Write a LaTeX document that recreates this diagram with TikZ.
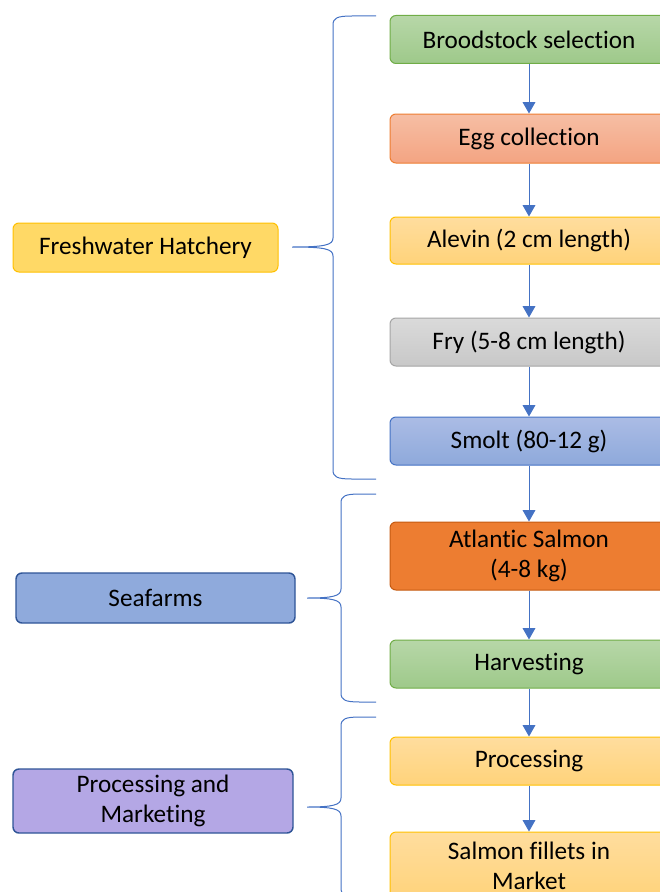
\documentclass[tikz,border=0pt]{standalone}
\usepackage{fontspec}
\setmainfont{Carlito}[Ligatures=NoCommon]
\usepackage{tikz}
\definecolor{arrowblue}{RGB}{68,114,196}
\definecolor{darkblue}{RGB}{47,85,151}
\definecolor{greentop}{RGB}{183,215,168}
\definecolor{greenbot}{RGB}{158,201,138}
\definecolor{greenline}{RGB}{112,173,71}
\definecolor{salmontop}{RGB}{246,190,164}
\definecolor{salmonbot}{RGB}{244,164,130}
\definecolor{salmonline}{RGB}{237,125,49}
\definecolor{yellowtop}{RGB}{255,221,158}
\definecolor{yellowbot}{RGB}{255,211,122}
\definecolor{yellowline}{RGB}{255,192,0}
\definecolor{greytop}{RGB}{218,218,218}
\definecolor{greybot}{RGB}{200,200,200}
\definecolor{greyline}{RGB}{165,165,165}
\definecolor{bluetop}{RGB}{171,188,229}
\definecolor{bluebot}{RGB}{142,169,219}
\definecolor{orangefill}{RGB}{237,125,49}
\definecolor{orangeline}{RGB}{197,90,17}
\definecolor{hatchfill}{RGB}{255,217,102}
\definecolor{seafill}{RGB}{143,170,220}
\definecolor{marketfill}{RGB}{180,167,229}
\usetikzlibrary{arrows.meta}
\usetikzlibrary{positioning}
\tikzset{stage/.style={rectangle,rounded corners=4.5pt,line width=0.75pt,minimum width=208.5pt,minimum height=36pt,inner sep=0pt,align=center,font=\fontsize{18.9}{22.5}\selectfont}}
\tikzset{group/.style={stage,line width=1.1pt}}
\tikzset{green stage/.style={stage,draw=greenline,top color=greentop,bottom color=greenbot}}
\tikzset{yellow stage/.style={stage,draw=yellowline,top color=yellowtop,bottom color=yellowbot}}
\tikzset{line/.style={arrowblue,>={Triangle[width=9.5pt,length=8.5pt]},line width=0.75pt}}
\tikzset{bracket/.style={arrowblue,line width=0.75pt}}

\begin{document}
\begin{tikzpicture}[x=0.75pt,y=-0.75pt]
  \clip (0,0) rectangle (660,892);
  % Stages
  \node[green stage] (brood) at (529,39.5) {Broodstock selection};
  \node[stage,draw=salmonline,top color=salmontop,bottom color=salmonbot,minimum height=36.75pt] (egg) at (529,138.5) {Egg collection};
  \node[yellow stage,minimum height=35.25pt] (alevin) at (529,240.5) {Alevin (2 cm length)};
  \node[stage,draw=greyline,top color=greytop,bottom color=greybot] (fry) at (529,342) {Fry (5-8 cm length)};
  \node[stage,draw=arrowblue,top color=bluetop,bottom color=bluebot] (smolt) at (529,441) {Smolt (80-12 g)};
  \node[stage,draw=orangeline,fill=orangefill,minimum height=51pt] (salmon) at (529,556) {Atlantic Salmon\\(4-8 kg)};
  \node[green stage] (harvest) at (529,664) {Harvesting};
  \node[yellow stage] (process) at (529,761) {Processing};
  \node[yellow stage,minimum height=51pt] (fillets) at (529,866) {Salmon fillets in\\Market};

  % Arrows
  \draw[line,->] (brood) -- (egg);
  \draw[line,->] (egg) -- (alevin);
  \draw[line,->] (alevin) -- (fry);
  \draw[line,->] (fry) -- (smolt);
  \draw[line,->] (smolt) -- (salmon);
  \draw[line,->] (salmon) -- (harvest);
  \draw[line,->] (harvest) -- (process);
  \draw[line,->] (process) -- (fillets);

  % Groups
  \node[stage,draw=yellowline,fill=hatchfill,minimum width=198.75pt,minimum height=36.75pt] (hatchery) at (145.5,247.5) {Freshwater Hatchery};
  \node[group,draw=darkblue,fill=seafill,minimum width=209.25pt,minimum height=37.5pt] (seafarms) at (155.5,598) {Seafarms};
  \node[group,draw=darkblue,fill=marketfill,minimum width=210pt,minimum height=48pt] (marketing) at (153,801) {Processing and\\Marketing};

  % Braces
  \draw[bracket] (376,16) -- (352,16) .. controls (337,16) and (333,18) .. (333,25)
    -- (333,238) .. controls (333,245) and (325,247) .. (292,247)
    .. controls (325,247) and (333,249) .. (333,256)
    -- (333,470) .. controls (333,477) and (337,479) .. (352,479) -- (376,479);
  \draw[bracket] (376,494) -- (360,494) .. controls (345,494) and (341,496) .. (341,503)
    -- (341,589) .. controls (341,596) and (333,598) .. (307,598)
    .. controls (333,598) and (341,600) .. (341,607)
    -- (341,693) .. controls (341,700) and (345,702) .. (360,702) -- (376,702);
  \draw[bracket] (376,717) -- (360,717) .. controls (345,717) and (341,719) .. (341,726)
    -- (341,798) .. controls (341,805) and (333,807) .. (307,807)
    .. controls (333,807) and (341,809) .. (341,816)
    -- (341,888) .. controls (341,895) and (345,897) .. (360,897) -- (376,897);
\end{tikzpicture}
\end{document}
